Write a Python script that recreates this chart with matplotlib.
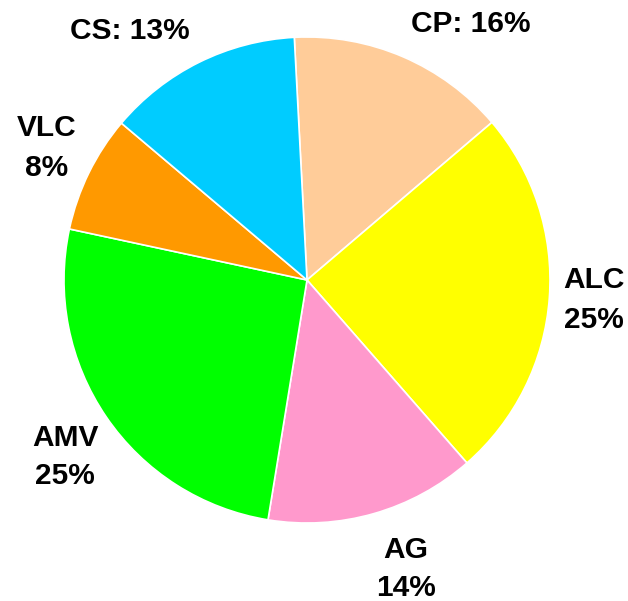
import matplotlib
matplotlib.use("Agg")
import matplotlib.pyplot as plt

# slices, clockwise from top
categorias = ['CP', 'ALC', 'AG', 'AMV', 'VLC', 'CS']
porcentajes = ['16%', '25%', '14%', '25%', '8%', '13%']
tamanos = [14.6, 24.8, 14.0, 25.8, 7.8, 13.0]
colores = ['#FFCC99', '#FFFF00', '#FF99CC', '#00FF00', '#FF9900', '#00CCFF']

W, H = 628, 601
fig = plt.figure(figsize=(W / 100, H / 100), dpi=100)
ax = fig.add_axes([0, 0, 1, 1])

ax.pie(tamanos, colors=colores, startangle=93.0, counterclock=False,
       center=(307, H - 280), radius=243,
       wedgeprops=dict(edgecolor='white', linewidth=1.2))
ax.set_xlim(0, W)
ax.set_ylim(0, H)
ax.set_aspect('equal')
ax.axis('off')

# label positions in pixels (x, y from top)
pos = {
    'CP': (471, 24, True),
    'ALC': (594, 300, False),
    'AG': (406, 569, False),
    'AMV': (65, 457, False),
    'VLC': (47, 148, False),
    'CS': (130, 31, True),
}
for cat, pct in zip(categorias, porcentajes):
    x, y, una_linea = pos[cat]
    txt = f'{cat}: {pct}' if una_linea else f'{cat}\n{pct}'
    ax.text(x, H - y, txt, ha='center', va='center', fontsize=21.5,
            fontweight='bold', family='Liberation Sans', linespacing=1.5)

fig.savefig('out.png', dpi=100)
